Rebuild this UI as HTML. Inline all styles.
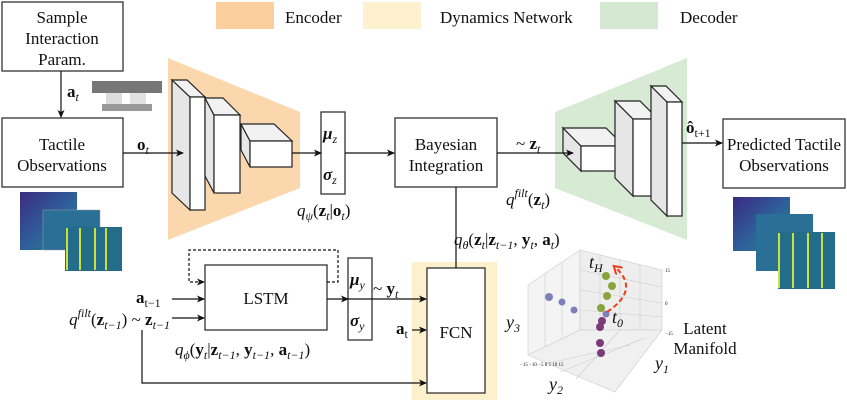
<!DOCTYPE html>
<html><head><meta charset="utf-8"><style>
body{margin:0;background:#fff}
svg{display:block}
svg text{font-family:"Liberation Serif","DejaVu Serif",serif;fill:#111}
.b{font-weight:bold}
</style></head><body>
<svg width="847" height="407" viewBox="0 0 847 407" xmlns="http://www.w3.org/2000/svg" font-family="Liberation Serif, DejaVu Serif, serif">
<defs>
<marker id="ar" markerWidth="8" markerHeight="8" refX="7" refY="4" orient="auto" markerUnits="userSpaceOnUse"><path d="M0,0.5 L8,4 L0,7.5 L2,4z" fill="#111"/></marker>
<marker id="ra" markerWidth="10" markerHeight="10" refX="5" refY="5" orient="auto" markerUnits="userSpaceOnUse"><path d="M0,0 L8,5 L0,10" fill="none" stroke="#f03a17" stroke-width="2"/></marker>
<linearGradient id="tg" x1="0" y1="0" x2="1" y2="1"><stop offset="0" stop-color="#3b2a80"/><stop offset="0.5" stop-color="#2f5d9a"/><stop offset="1" stop-color="#1f8a8a"/></linearGradient>
</defs>
<rect x="216" y="2" width="58" height="27" fill="#fbcf9e"/>
<text x="285" y="23" font-size="17">Encoder</text>
<rect x="363" y="2" width="58" height="27" fill="#fdf1cf"/>
<text x="440" y="23" font-size="17">Dynamics Network</text>
<rect x="600" y="2" width="58" height="27" fill="#d4e8d2"/>
<text x="680" y="23" font-size="17">Decoder</text>

<polygon points="168,58 300,112 300,188 168,240" fill="#fbd7ae"/>
<polygon points="555,112 687,58 687,240 555,188" fill="#d6ead4"/>
<rect x="412" y="262" width="85" height="138" fill="#fdf0cc"/>

<g fill="#fff" stroke="#333" stroke-width="1.3">
<rect x="2" y="2" width="121" height="69"/>
<rect x="2" y="118" width="121" height="69"/>
<rect x="395" y="118" width="102" height="69"/>
<rect x="723" y="119" width="122" height="69"/>
<rect x="205" y="265" width="122" height="65"/>
<rect x="427" y="268" width="58" height="125"/>
<rect x="321" y="112" width="24" height="82"/>
<rect x="348" y="258" width="24" height="82"/>
</g>
<g font-size="17" text-anchor="middle">
<text x="62" y="23">Sample</text><text x="62" y="44">Interaction</text><text x="62" y="65">Param.</text>
<text x="62" y="150">Tactile</text><text x="62" y="171">Observations</text>
<text x="446" y="150">Bayesian</text><text x="446" y="171">Integration</text>
<text x="784" y="150">Predicted Tactile</text><text x="784" y="171">Observations</text>
<text x="266" y="304">LSTM</text>
<text x="456" y="338">FCN</text>
<text x="705" y="334">Latent</text><text x="705" y="354">Manifold</text>
</g>

<g stroke="#222" stroke-width="1.2">
<polygon points="172,80 190,97 190,210 172,193" fill="#e6e6e6"/>
<polygon points="172,80 187,80 205,97 190,97" fill="#f2f2f2"/>
<rect x="190" y="97" width="15" height="113" fill="#fff"/>
<polygon points="205,98 214,115 214,193 205,176" fill="#e6e6e6"/>
<polygon points="205,98 223,98 240,115 214,115" fill="#f2f2f2"/>
<rect x="214" y="115" width="26" height="78" fill="#fff"/>
<polygon points="241,124 250,141 250,167 241,150" fill="#e6e6e6"/>
<polygon points="241,124 274,124 292,141 250,141" fill="#f2f2f2"/>
<rect x="250" y="141" width="42" height="26" fill="#fff"/>
<polygon points="563,128 581,146 581,171 563,153" fill="#e6e6e6"/>
<polygon points="563,128 606,128 624,146 581,146" fill="#f2f2f2"/>
<rect x="581" y="146" width="43" height="25" fill="#fff"/>
<polygon points="615,101 633,119 633,196 615,178" fill="#e6e6e6"/>
<polygon points="615,101 640,101 658,119 633,119" fill="#f2f2f2"/>
<rect x="633" y="119" width="25" height="77" fill="#fff"/>
<polygon points="651,86 667,102 667,216 651,200" fill="#e6e6e6"/>
<polygon points="651,86 666,86 682,102 667,102" fill="#f2f2f2"/>
<rect x="667" y="102" width="15" height="114" fill="#fff"/>
</g>

<g stroke="#111" stroke-width="1.2" fill="none">
<line x1="61" y1="71" x2="61" y2="117" marker-end="url(#ar)"/>
<line x1="123" y1="153" x2="183" y2="153" marker-end="url(#ar)"/>
<line x1="292" y1="153" x2="321" y2="153" marker-end="url(#ar)"/>
<line x1="345" y1="153" x2="394" y2="153" marker-end="url(#ar)"/>
<line x1="497" y1="153" x2="573" y2="153" marker-end="url(#ar)"/>
<line x1="682" y1="143" x2="722" y2="143" marker-end="url(#ar)"/>
<line x1="456" y1="268" x2="456" y2="187"/>
<line x1="172" y1="299" x2="204" y2="299" marker-end="url(#ar)"/>
<line x1="172" y1="318" x2="204" y2="318" marker-end="url(#ar)"/>
<line x1="327" y1="299" x2="348" y2="299" marker-end="url(#ar)"/>
<line x1="348" y1="299" x2="426" y2="299" marker-end="url(#ar)"/>
<line x1="412" y1="330" x2="426" y2="330" marker-end="url(#ar)"/>
<polyline points="142,330 142,383 426,383" marker-end="url(#ar)"/>
<polyline points="327,282 338,282 338,250 189,250 189,282 204,282" stroke-dasharray="3,2" marker-end="url(#ar)"/>
</g>

<g font-size="17">
<text x="67" y="97" class="b">a<tspan font-size="12" font-weight="normal" font-style="italic" dy="4">t</tspan></text>
<text x="137" y="150" class="b">o<tspan font-size="12" font-weight="normal" font-style="italic" dy="4">t</tspan></text>
<text x="323" y="139" class="b" font-style="italic">μ<tspan font-size="12" font-weight="normal" dy="4">z</tspan></text>
<text x="323" y="180" class="b" font-style="italic">σ<tspan font-size="12" font-weight="normal" dy="4">z</tspan></text>
<text x="297" y="216" font-style="italic">q<tspan font-size="12" dy="4">ψ</tspan><tspan dy="-4" font-style="normal">(</tspan><tspan class="b" font-style="normal">z</tspan><tspan font-size="12" dy="4">t</tspan><tspan dy="-4" font-style="normal">|</tspan><tspan class="b" font-style="normal">o</tspan><tspan font-size="12" dy="4">t</tspan><tspan dy="-4" font-style="normal">)</tspan></text>
<text x="516" y="149">~ <tspan class="b">z</tspan><tspan font-size="12" font-style="italic" dy="4">t</tspan></text>
<text x="506" y="205" font-style="italic">q<tspan font-size="12" dy="-8">filt</tspan><tspan dy="8" font-style="normal">(</tspan><tspan class="b" font-style="normal">z</tspan><tspan font-size="12" dy="4">t</tspan><tspan dy="-4" font-style="normal">)</tspan></text>
<text x="686" y="133" class="b">ô<tspan font-size="12" font-weight="normal" dy="4">t+1</tspan></text>
<text x="454" y="245" font-style="italic">q<tspan font-size="12" dy="4">θ</tspan><tspan dy="-4" font-style="normal">(</tspan><tspan class="b" font-style="normal">z</tspan><tspan font-size="12" dy="4">t</tspan><tspan dy="-4" font-style="normal">|</tspan><tspan class="b" font-style="normal">z</tspan><tspan font-size="12" dy="4">t−1</tspan><tspan dy="-4" font-style="normal">, </tspan><tspan class="b" font-style="normal">y</tspan><tspan font-size="12" dy="4">t</tspan><tspan dy="-4" font-style="normal">, </tspan><tspan class="b" font-style="normal">a</tspan><tspan font-size="12" dy="4">t</tspan><tspan dy="-4" font-style="normal">)</tspan></text>
<text x="136" y="303" class="b">a<tspan font-size="12" font-weight="normal" dy="4">t−1</tspan></text>
<text x="170" y="325" text-anchor="end" font-style="italic">q<tspan font-size="12" dy="-8">filt</tspan><tspan dy="8" font-style="normal">(</tspan><tspan class="b" font-style="normal">z</tspan><tspan font-size="12" dy="4">t−1</tspan><tspan dy="-4" font-style="normal">) ~ </tspan><tspan class="b" font-style="normal">z</tspan><tspan font-size="12" dy="4">t−1</tspan></text>
<text x="350" y="285" class="b" font-style="italic">μ<tspan font-size="12" font-weight="normal" dy="4">y</tspan></text>
<text x="350" y="326" class="b" font-style="italic">σ<tspan font-size="12" font-weight="normal" dy="4">y</tspan></text>
<text x="373" y="294">~ <tspan class="b">y</tspan><tspan font-size="12" font-style="italic" dy="4">t</tspan></text>
<text x="396" y="334" class="b">a<tspan font-size="12" font-weight="normal" dy="4">t</tspan></text>
<text x="175" y="355" font-style="italic">q<tspan font-size="12" dy="4">ϕ</tspan><tspan dy="-4" font-style="normal">(</tspan><tspan class="b" font-style="normal">y</tspan><tspan font-size="12" dy="4">t</tspan><tspan dy="-4" font-style="normal">|</tspan><tspan class="b" font-style="normal">z</tspan><tspan font-size="12" dy="4">t−1</tspan><tspan dy="-4" font-style="normal">, </tspan><tspan class="b" font-style="normal">y</tspan><tspan font-size="12" dy="4">t−1</tspan><tspan dy="-4" font-style="normal">, </tspan><tspan class="b" font-style="normal">a</tspan><tspan font-size="12" dy="4">t−1</tspan><tspan dy="-4" font-style="normal">)</tspan></text>
</g>

<rect x="92" y="81" width="70" height="12" fill="#777"/>
<rect x="106" y="93" width="16" height="11" fill="#ddd"/><rect x="130" y="93" width="16" height="11" fill="#e2e2e2"/>
<rect x="102" y="104" width="50" height="7" fill="#999"/>

<g>
<rect x="20" y="192" width="57" height="58" fill="url(#tg)"/>
<rect x="43" y="210" width="57" height="40" fill="#2a6f95" stroke="#99a" stroke-width="0.5"/>
<rect x="65" y="227" width="57" height="44" fill="#236c8a"/>
<g stroke="#c8e23a" stroke-width="2"><line x1="67" y1="228" x2="67" y2="270"/><line x1="80" y1="228" x2="80" y2="270"/><line x1="95" y1="228" x2="95" y2="270"/><line x1="106" y1="228" x2="106" y2="270"/></g>
<rect x="733" y="197" width="57" height="54" fill="url(#tg)"/>
<rect x="756" y="214" width="57" height="57" fill="#2a6f95"/>
<rect x="778" y="232" width="57" height="57" fill="#236c8a"/>
<g stroke="#c8e23a" stroke-width="2"><line x1="779" y1="233" x2="779" y2="288"/><line x1="793" y1="233" x2="793" y2="288"/><line x1="808" y1="233" x2="808" y2="288"/><line x1="822" y1="233" x2="822" y2="288"/></g>
</g>

<g stroke="#ccc" stroke-width="0.6" fill="none">
<polygon points="528,285 580,250 580,330 528,355" fill="#f4f4f4"/>
<polygon points="580,250 662,270 662,330 580,330" fill="#eeeeee"/>
<polygon points="528,355 580,330 662,330 615,392" fill="#f0f0f0"/>
<line x1="545" y1="274" x2="545" y2="347"/><line x1="562" y1="262" x2="562" y2="339"/>
<line x1="600" y1="255" x2="600" y2="330"/><line x1="620" y1="260" x2="620" y2="330"/><line x1="640" y1="265" x2="640" y2="330"/>
<line x1="580" y1="270" x2="662" y2="287"/><line x1="580" y1="290" x2="662" y2="303"/><line x1="580" y1="310" x2="662" y2="317"/>
<line x1="545" y1="364" x2="630" y2="345"/><line x1="560" y1="372" x2="645" y2="338"/><line x1="576" y1="379" x2="620" y2="330"/>
</g>
<g font-size="5" fill="#444"><text x="520" y="366">−15 −10 −5 0 5 10 15</text><text x="665" y="272">15</text><text x="665" y="305">0</text><text x="665" y="335">−15</text></g>
<g fill="#7b3a78"><circle cx="601" cy="353" r="4"/><circle cx="600" cy="343" r="4"/><circle cx="602" cy="321" r="4"/><circle cx="600" cy="327" r="4"/></g>
<g fill="#8aa33d"><circle cx="606" cy="276" r="4"/><circle cx="612" cy="286" r="4"/><circle cx="607" cy="296" r="4"/><circle cx="601" cy="308" r="4"/></g>
<g fill="#7d80b8"><circle cx="549" cy="297" r="4"/><circle cx="562" cy="302" r="3.5"/><circle cx="574" cy="310" r="3.5"/><circle cx="606" cy="314" r="3.5"/></g>
<path d="M607,312 Q640,290 616,268" stroke="#f03a17" stroke-width="2" stroke-dasharray="5,3" fill="none" marker-end="url(#ra)"/>
<g font-size="18" font-style="italic">
<text x="589" y="268">t<tspan font-size="12" dy="4">H</tspan></text>
<text x="612" y="323">t<tspan font-size="12" dy="4">0</tspan></text>
<text x="506" y="328">y<tspan font-size="12" dy="4">3</tspan></text>
<text x="549" y="390">y<tspan font-size="12" dy="4">2</tspan></text>
<text x="655" y="369">y<tspan font-size="12" dy="4">1</tspan></text>
</g>
</svg>
</body></html>
